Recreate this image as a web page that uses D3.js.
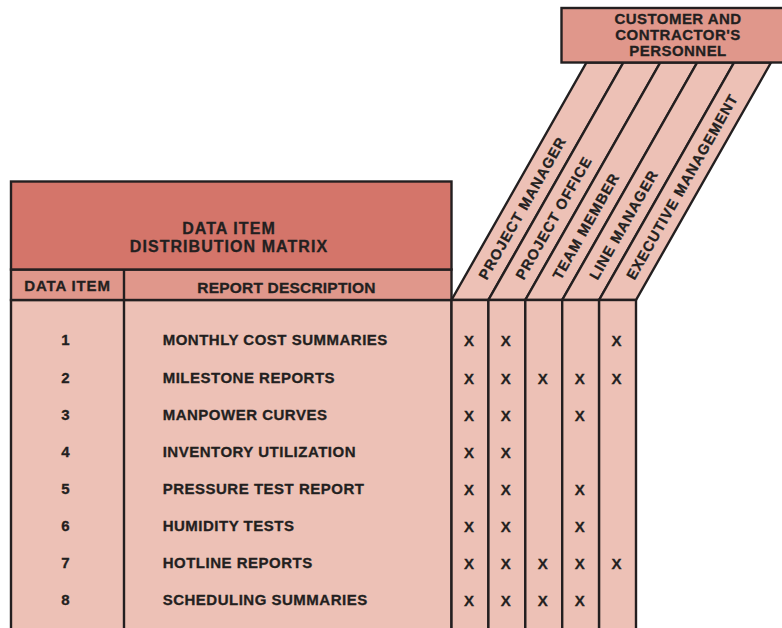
<!DOCTYPE html>
<html>
<head>
<meta charset="utf-8">
<script src="https://cdn.jsdelivr.net/npm/d3@7"></script>
<style>
  html, body { margin: 0; padding: 0; background: #ffffff; }
  svg { display: block; }
  text { font-family: "Liberation Sans", Arial, Helvetica, sans-serif; font-weight: bold; fill: #231f20; stroke: #231f20; stroke-width: 0.3px; }
</style>
</head>
<body>
<svg id="chart" width="782" height="628"></svg>
<script>
// ---- data ----
const titleLines = ["DATA ITEM", "DISTRIBUTION MATRIX"];
const columnHeaders = ["DATA ITEM", "REPORT DESCRIPTION"];
const groupLines = ["CUSTOMER AND", "CONTRACTOR'S", "PERSONNEL"];
const items = ["1", "2", "3", "4", "5", "6", "7", "8"];
const descriptions = [
  "MONTHLY COST SUMMARIES",
  "MILESTONE REPORTS",
  "MANPOWER CURVES",
  "INVENTORY UTILIZATION",
  "PRESSURE TEST REPORT",
  "HUMIDITY TESTS",
  "HOTLINE REPORTS",
  "SCHEDULING SUMMARIES"
];
const roles = ["PROJECT MANAGER", "PROJECT OFFICE", "TEAM MEMBER", "LINE MANAGER", "EXECUTIVE MANAGEMENT"];
// 1 = item distributed to that role (marked X)
const projectManager      = [1, 1, 1, 1, 1, 1, 1, 1];
const projectOffice       = [1, 1, 1, 1, 1, 1, 1, 1];
const teamMember          = [0, 1, 0, 0, 0, 0, 1, 1];
const lineManager         = [0, 1, 1, 0, 1, 1, 1, 1];
const executiveManagement = [1, 1, 0, 0, 0, 0, 1, 0];
const distribution = [projectManager, projectOffice, teamMember, lineManager, executiveManagement];

// ---- styles ----
const C = {
  line: "#231f20",
  title: "#d4756a",
  sub: "#e0978b",
  body: "#edc1b6"
};
const SW = 2.4;

const svg = d3.select("#chart");

// ---- layout ----
const L = { x0: 11, xDiv: 124, x1: 451.5, yTop: 181.5, yHead: 269.5, yBody: 300, yEnd: 660 };
const x = d3.scaleBand().domain(roles).range([451.5, 636]).paddingInner(0).paddingOuter(0);
const y = d3.scalePoint().domain(items).range([340, 600]);
const bandTop = 62.5;
const shift = 135;
const angle = Math.atan2(L.yBody - bandTop, shift) * 180 / Math.PI;

// ---- slanted role bands ----
const bands = svg.append("g");
bands.selectAll("path").data(roles).join("path")
  .attr("d", r => {
    const a = x(r), b = x(r) + x.bandwidth();
    return `M${a},${L.yBody}L${b},${L.yBody}L${b + shift},${bandTop}L${a + shift},${bandTop}Z`;
  })
  .attr("fill", C.body).attr("stroke", C.line).attr("stroke-width", SW).attr("stroke-linejoin", "miter");

const rad = angle * Math.PI / 180;
bands.selectAll("text").data(roles).join("text")
  .attr("transform", r => {
    const cx = x(r) + x.bandwidth() / 2;
    const d = 25;
    return `translate(${cx + Math.cos(rad) * d},${L.yBody - Math.sin(rad) * d}) rotate(${-angle})`;
  })
  .attr("dy", "0.36em")
  .attr("font-size", 14.5)
  .attr("letter-spacing", 0.95)
  .text(r => r);

// ---- group header box ----
svg.append("rect")
  .attr("x", 561.5).attr("y", 8).attr("width", 240).attr("height", bandTop - 8)
  .attr("fill", C.sub).attr("stroke", C.line).attr("stroke-width", SW);
svg.append("g").selectAll("text").data(groupLines).join("text")
  .attr("x", 678).attr("y", (d, i) => 24.3 + i * 16)
  .attr("text-anchor", "middle")
  .attr("font-size", 15)
  .attr("letter-spacing", 0.45)
  .text(d => d);

// ---- left table ----
const left = svg.append("g");
left.append("rect").attr("x", L.x0).attr("y", L.yBody).attr("width", L.x1 - L.x0).attr("height", L.yEnd - L.yBody)
  .attr("fill", C.body).attr("stroke", C.line).attr("stroke-width", SW);
left.append("rect").attr("x", L.x0).attr("y", L.yHead).attr("width", L.x1 - L.x0).attr("height", L.yBody - L.yHead)
  .attr("fill", C.sub).attr("stroke", C.line).attr("stroke-width", SW);
left.append("rect").attr("x", L.x0).attr("y", L.yTop).attr("width", L.x1 - L.x0).attr("height", L.yHead - L.yTop)
  .attr("fill", C.title).attr("stroke", C.line).attr("stroke-width", SW);
left.append("line").attr("x1", L.xDiv).attr("x2", L.xDiv).attr("y1", L.yHead).attr("y2", L.yEnd)
  .attr("stroke", C.line).attr("stroke-width", SW);

left.selectAll("text.title").data(titleLines).join("text").attr("class", "title")
  .attr("x", 229).attr("y", (d, i) => 233.5 + i * 18.5)
  .attr("text-anchor", "middle").attr("font-size", 16).attr("letter-spacing", 1.05)
  .text(d => d);

left.append("text").attr("x", 67.5).attr("y", 291).attr("text-anchor", "middle")
  .attr("font-size", 15).attr("letter-spacing", 0.85).text(columnHeaders[0]);
left.append("text").attr("x", 286.5).attr("y", 293.3).attr("text-anchor", "middle")
  .attr("font-size", 15.5).attr("letter-spacing", 0.2).text(columnHeaders[1]);

left.selectAll("text.num").data(items).join("text").attr("class", "num")
  .attr("x", 65.5).attr("y", d => y(d)).attr("dy", "0.36em")
  .attr("text-anchor", "middle").attr("font-size", 15)
  .text(d => d);

left.selectAll("text.desc").data(descriptions).join("text").attr("class", "desc")
  .attr("x", 162.7).attr("y", (d, i) => y(items[i])).attr("dy", "0.36em")
  .attr("font-size", 15).attr("letter-spacing", 0.5)
  .text(d => d);

// ---- matrix columns ----
const mat = svg.append("g");
mat.selectAll("rect").data(roles).join("rect")
  .attr("x", r => x(r)).attr("y", L.yBody).attr("width", x.bandwidth()).attr("height", L.yEnd - L.yBody)
  .attr("fill", C.body).attr("stroke", C.line).attr("stroke-width", SW);

const marks = [];
roles.forEach((r, ci) => distribution[ci].forEach((v, ri) => { if (v) marks.push({ r, item: items[ri] }); }));
mat.selectAll("text").data(marks).join("text")
  .attr("x", d => x(d.r) + x.bandwidth() / 2 - 1)
  .attr("y", d => y(d.item) + 1)
  .attr("dy", "0.36em")
  .attr("text-anchor", "middle")
  .attr("font-size", 15)
  .text("X");
</script>
</body>
</html>
